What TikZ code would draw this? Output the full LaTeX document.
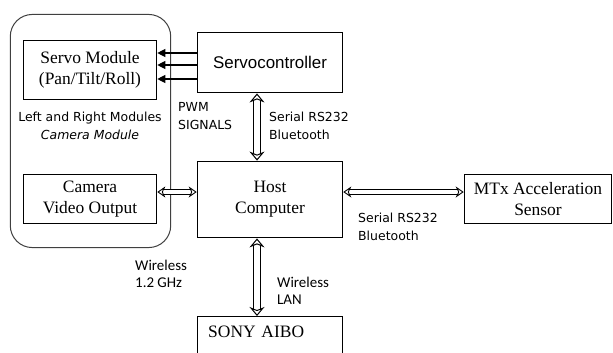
\documentclass[tikz,border=0pt]{standalone}
\usepackage{fontspec}
\setmainfont{Liberation Serif}
\newfontfamily\arialfont{Liberation Sans}
\newfontfamily\notefont{DejaVu Sans}
\newfontfamily\wififont{Carlito}
\usetikzlibrary{arrows.meta,calc}

\begin{document}
\begin{tikzpicture}[
  x=1bp, y=-1bp,
  font=\fontsize{17.5}{21}\selectfont,
  box/.style={draw, line width=1.1bp, align=center, inner sep=0pt},
  frame/.style={draw=black!75, line width=1bp, rounded corners=22bp, inner sep=0pt},
  note/.style={align=left, anchor=west, inner sep=0pt, font=\notefont\fontsize{12.5}{18}\selectfont},
  wifi/.style={align=left, anchor=west, inner sep=0pt, font=\wififont\fontsize{15}{17}\selectfont},
  pwm/.style={-{Triangle[length=8bp,width=8bp]}, line width=1.1bp},
  link/.style={{Stealth[open,fill=white,length=9bp,width=15bp,inset=3bp,line width=1bp]}-{Stealth[open,fill=white,length=9bp,width=15bp,inset=3bp,line width=1bp]}, double, double distance=5.5bp, line width=0.9bp},
  thinlink/.style={{Stealth[open,fill=white,length=8bp,width=11bp,inset=2.5bp,line width=0.9bp]}-{Stealth[open,fill=white,length=8bp,width=11bp,inset=2.5bp,line width=0.9bp]}, double, double distance=3.5bp, line width=0.8bp}
]
\useasboundingbox (0,0) rectangle (613,352);
\clip (0,0) rectangle (613,352);

\node[frame, minimum width=161, minimum height=234] (module) at (90.5,131) {};
\node[box, minimum width=134, minimum height=60] (servo) at (90,70) {Servo Module\\(Pan/Tilt/Roll)};
\node[box, minimum width=134, minimum height=50] (camera) at (90,199) {Camera\\Video Output};
\node[note, anchor=center, align=center] (modlabel) at (90,126) {Left and Right Modules\\\textit{Camera Module}};
\node[box, minimum width=146, minimum height=61, font=\arialfont\fontsize{17}{20}\selectfont] (servoctl) at (270,62.5) {Servocontroller};
\node[box, minimum width=146, minimum height=77] (host) at (270,199.5) {Host\\Computer};
\node[box, minimum width=148, minimum height=50] (mtx) at (538,199) {MTx Acceleration\\Sensor};
\node[box, anchor=north, text width=124, align=left, inner xsep=11bp, inner ysep=9bp, text depth=60bp] (aibo) at (270,316) {SONY AIBO};

\node[note] (pwmlabel) at (178,116.5) {PWM\\SIGNALS};
\node[note] (ctllabel) at (269,126) {Serial RS232\\Bluetooth};
\node[note] (mtxlabel) at (358,226.5) {Serial RS232\\Bluetooth};
\node[wifi] (videolabel) at (135,273.5) {Wireless\\1.2 GHz};
\node[wifi] (lanlabel) at (277,290.5) {Wireless\\LAN};

\foreach \dy in {-9.5,2.5,16.5}
  \draw[pwm] ($(servoctl.west)+(0,\dy)$) coordinate (p) -- (p -| servo.east);
\draw[link] ($(servoctl.south)+(-13,0)$) -- ($(host.north)+(-13,0)$);
\draw[link] ($(host.south)+(-13,0)$) -- ($(aibo.north)+(-13,0)$);
\draw[thinlink] ($(camera.east)+(0,-7)$) coordinate (q) -- (q -| host.west);
\draw[thinlink] ($(host.east)+(0,-7.5)$) coordinate (r) -- (r -| mtx.west);
\end{tikzpicture}
\end{document}
